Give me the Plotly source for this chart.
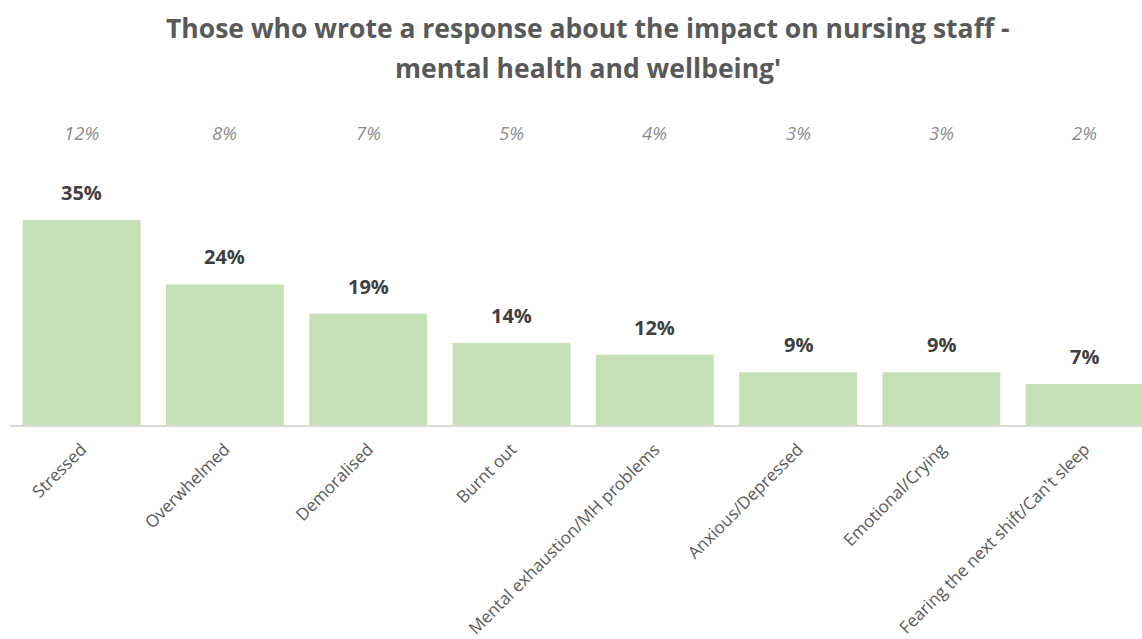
import plotly.graph_objects as go

categories = [
    "Stressed",
    "Overwhelmed",
    "Demoralised",
    "Burnt out",
    "Mental exhaustion/MH problems",
    "Anxious/Depressed",
    "Emotional/Crying",
    "Fearing the next shift/Can't sleep",
]
share_of_writers = [35, 24, 19, 14, 12, 9, 9, 7]
share_of_all = [12, 8, 7, 5, 4, 3, 3, 2]

title_lines = [
    "Those who wrote a response about the impact on nursing staff -",
    "mental health and wellbeing'",
]

fig = go.Figure()
fig.add_trace(go.Bar(
    x=list(range(len(categories))),
    y=share_of_writers,
    marker=dict(color="#C5E0B4", line=dict(width=0)),
    cliponaxis=False,
    hoverinfo="skip",
))

# Bold value labels floating above each bar
for i, v in enumerate(share_of_writers):
    fig.add_annotation(
        x=i, y=v, xref="x", yref="y", yanchor="bottom", yshift=12,
        text=f"<b>{v}%</b>", showarrow=False,
        font=dict(family="Open Sans", size=20, color="#404040"),
    )

# Overall share shown as an italic row above the bars
for i, v in enumerate(share_of_all):
    fig.add_annotation(
        x=i, y=50, xref="x", yref="y",
        text=f"<i>{v}%</i>", showarrow=False,
        font=dict(family="Open Sans", size=18.5, color="#8C8C8C"),
    )

# Two-line chart title with generous line spacing
for line, ypos in zip(title_lines, [1.260, 1.133]):
    fig.add_annotation(
        x=0.511, y=ypos, xref="paper", yref="paper",
        xanchor="center", yanchor="middle",
        text=f"<b>{line}</b>", showarrow=False,
        font=dict(family="Open Sans", size=26.5, color="#595959"),
    )

fig.update_layout(
    width=1142, height=639,
    margin=dict(l=10, r=0, t=110, b=214),
    paper_bgcolor="white", plot_bgcolor="white",
    bargap=0.177,
    showlegend=False,
    xaxis=dict(
        range=[-0.5, 7.4],
        tickmode="array",
        tickvals=list(range(len(categories))),
        ticktext=categories,
        tickangle=-45,
        tickfont=dict(family="Open Sans", size=17, color="#595959"),
        showline=True, linecolor="#D9D9D9", linewidth=1.5,
        ticks="outside", ticklen=6, tickcolor="rgba(0,0,0,0)",
        showgrid=False, zeroline=False,
    ),
    yaxis=dict(range=[0, 53.8], visible=False, showgrid=False, zeroline=False),
)

fig.write_html("out.html")
